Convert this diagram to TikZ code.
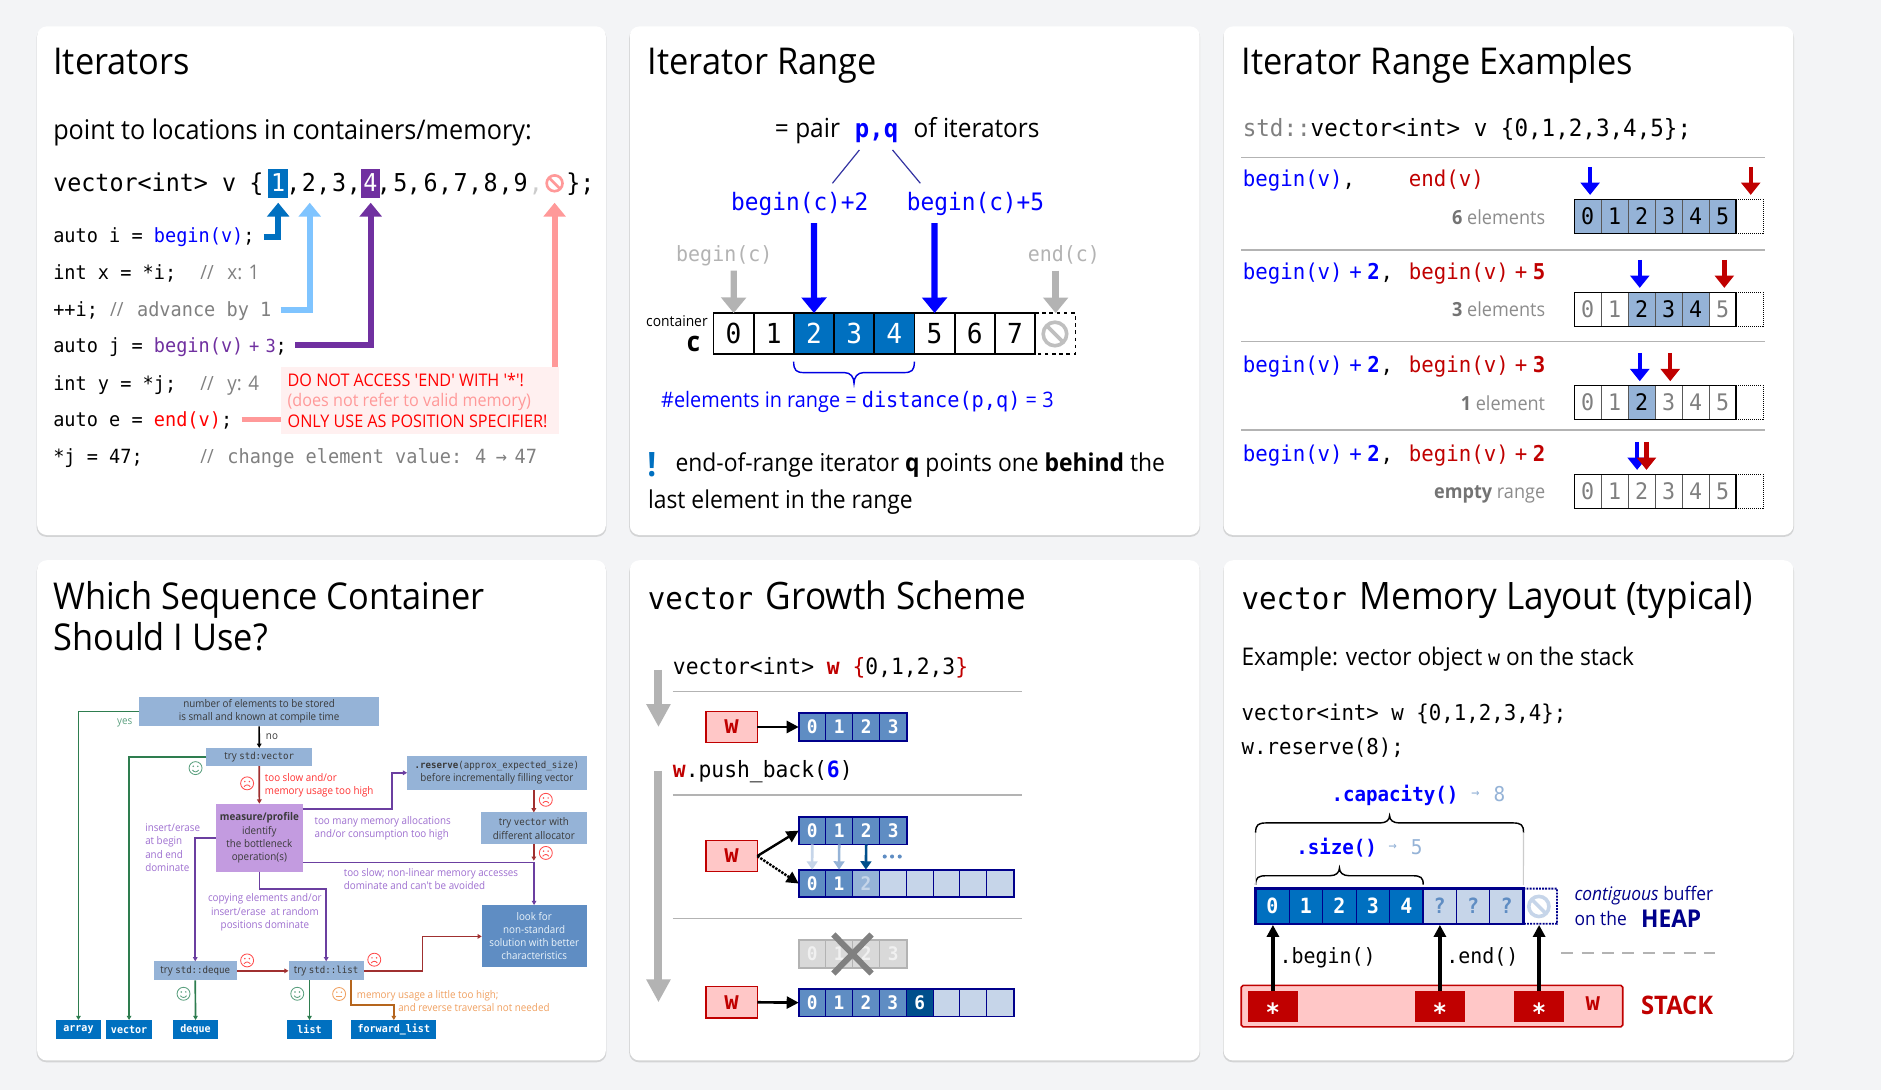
\documentclass[tikz,border=0pt]{standalone}
\usepackage{fontspec}
\usetikzlibrary{arrows.meta,calc}
\newfontfamily\ui[FakeStretch=0.93]{Open Sans}
\newfontfamily\mono[FakeStretch=0.95]{DejaVu Sans Mono}
\newcommand\fs[1]{\fontsize{#1}{#1}\selectfont}
\definecolor{pagebg}{HTML}{F3F4F6}
\definecolor{cbl}{HTML}{0000FF}
\definecolor{cblue}{HTML}{0070C0}
\definecolor{cpur}{HTML}{7030A0}
\definecolor{clb}{HTML}{7FC4FF}
\definecolor{cpink}{HTML}{FF9999}
\definecolor{cred}{HTML}{C00000}
\definecolor{navy}{HTML}{00008B}
\definecolor{cfill}{HTML}{95B3D7}
\definecolor{cmid}{HTML}{5F8DC3}
\definecolor{clite}{HTML}{C6D5E9}
\definecolor{cdark}{HTML}{004F8C}
\definecolor{cgray}{HTML}{808080}
\definecolor{lgray}{HTML}{B3B3B3}
\definecolor{rosefill}{HTML}{FFC7C7}
\definecolor{warnbg}{HTML}{FFF0F0}
\definecolor{fgreen}{HTML}{2E7D4F}
\definecolor{tgreen}{HTML}{5BA07F}
\definecolor{fpur}{HTML}{6B3FA0}
\definecolor{tpur}{HTML}{9E6FD0}
\definecolor{fdred}{HTML}{A03030}
\definecolor{fora}{HTML}{B5651D}
\definecolor{tora}{HTML}{F0A060}
\definecolor{fbox}{HTML}{95B3D7}
\definecolor{fmeas}{HTML}{C39BE0}
\definecolor{ftext}{HTML}{3A3A3A}
\tikzset{
  txt/.style={inner sep=0pt,outer sep=0pt,anchor=base west,yshift=-1pt},
  cellnode/.style={inner sep=0pt,outer sep=0pt,anchor=center},
  card/.style={fill=white,rounded corners=8pt},
  cardsh/.style={fill=black!25,rounded corners=8pt,opacity=.6},
  fbx/.style={inner sep=0pt,outer sep=0pt,fill=fbox,font={\ui\fs{8.8}},text=ftext,align=center,anchor=center},
  fbl/.style={inner sep=0pt,outer sep=0pt,fill=cblue,font={\mono\bfseries\fs{8.8}},text=white,anchor=center,minimum width=38pt,minimum height=15.6pt},
  fln/.style={line width=1.4pt,-{Triangle[length=3.5pt,width=3.8pt]}},
  uparrow/.style={line width=5pt,-{Triangle[length=11.5pt,width=18pt]}},
  bigarrow/.style={line width=5.3pt,-{Triangle[length=13pt,width=20.4pt]}},
  smallarrow/.style={line width=3.6pt,-{Triangle[length=10.3pt,width=15.7pt]}},
  wbox/.style={inner sep=0pt,outer sep=0pt,draw=cred,line width=1.3pt,fill=rosefill,text=cred,font={\mono\bfseries\fs{21}},minimum width=43pt,minimum height=26pt,anchor=center},
  ptr/.style={line width=2.2pt,-{Triangle[length=10pt,width=10pt]}},
  gsep/.style={draw=lgray,line width=1.3pt},
}
\newcounter{tn}
\newcommand\T[5][]{\stepcounter{tn}\node[txt,#1,font={#4}] (t\arabic{tn}) at (#2,#3) {#5};}
\newcommand\CellRow[7]{%
  \foreach \dd/\ff/\cc [count=\ii from 0] in {#7} {
    \pgfmathsetmacro\xx{#2+#4*(\ii+.5)}
    \node[cellnode,#6,minimum width=#4 pt,minimum height=#5 pt,fill=\ff,text=\cc] (#1\ii) at (\xx,#3) {\dd};
  }}
\newcommand\NoSign[5]{%
  \draw[#5,line width=#4pt] (#1,#2) circle[radius=#3];
  \draw[#5,line width=#4pt] ($(#1,#2)+(-.7*#3,-.7*#3)$) -- ($(#1,#2)+(.7*#3,.7*#3)$);}
\newcommand\Brace[6]{% x1 x2 ybar e t color
  \pgfmathsetmacro\bm{(#1+#2)/2}
  \draw[#6,line width=1.2pt] (#1,#3+#4) .. controls (#1,#3+.2*#4) and (#1+2,#3) .. (#1+9,#3)
    -- (\bm-8,#3) .. controls (\bm-3,#3) and (\bm,#3+.4*#5) .. (\bm,#3+#5)
    .. controls (\bm,#3+.4*#5) and (\bm+3,#3) .. (\bm+8,#3)
    -- (#2-9,#3) .. controls (#2-2,#3) and (#2,#3+.2*#4) .. (#2,#3+#4);}
\newcommand\Face[4]{% x y color kind(1 smile,-1 frown,0 neutral)
  \draw[#3,line width=.7pt] (#1,#2) circle[radius=5.4];
  \fill[#3] (#1-1.9,#2-1.5) circle[radius=.7];
  \fill[#3] (#1+1.9,#2-1.5) circle[radius=.7];
  \draw[#3,line width=.7pt] (#1-2.6,#2+2.2-#4*.6) .. controls (#1-1,#2+2.2+#4*1.4) and (#1+1,#2+2.2+#4*1.4) .. (#1+2.6,#2+2.2-#4*.6);}
\begin{document}
\begin{tikzpicture}[x=1pt,y=-1pt]
\useasboundingbox (0,0) rectangle (1568,909);
\fill[pagebg] (0,0) rectangle (1568,909);
% cards
\foreach \xa/\xb in {31/505,525/1000,1020/1495}{
  \fill[cardsh] (\xa-.5,23.5) rectangle (\xb+.5,447.5);
  \fill[cardsh] (\xa-.5,468.5) rectangle (\xb+.5,885.5);
  \fill[card] (\xa,22) rectangle (\xb,446);
  \fill[card] (\xa,467) rectangle (\xb,884);
}
\def\tf{\ui\fs{30.8}}
\def\tg{\ui\fs{31.5}}
% ---------------- Card 1
\T{44.5}{61}{\tf}{Iterators}
\T{44.4}{115.3}{\ui\fs{22.6}}{point to locations in containers/memory:}
\fill[cblue] (223.8,140.9) rectangle (240.4,164.8);
\fill[cpur] (301.2,140.9) rectangle (316.5,164.8);
\def\vf{\mono\fs{20.5}}
\T{44.4}{158.8}{\vf}{vector<int> v}
\T[anchor=base]{213.7}{158.8}{\vf}{\{}
\T[anchor=base,text=white]{231.9}{158.8}{\vf}{1}
\foreach \xp/\dg in {257.6/2,282.7/3,333.8/5,358.9/6,384/7,409/8,434/9}{\T[anchor=base]{\xp}{158.8}{\vf}{\dg}}
\T[anchor=base,text=white]{308.7}{158.8}{\vf}{4}
\foreach \xp in {244.5,269.5,295,320,345,371,396,421.6}{\T[anchor=base]{\xp}{158.8}{\vf}{,}}
\T[anchor=base,text=black!20]{446.7}{158.8}{\vf}{,}
\NoSign{462.3}{152.8}{6.6}{2.2}{cpink}
\T[anchor=base]{478}{158.8}{\vf}{\}}
\T[anchor=base]{489.6}{158.8}{\vf}{;}
\def\cf{\mono\fs{16.3}}
\T{44.4}{201.4}{\cf}{auto i = \textcolor{cbl}{begin(v)};}
\T{44.4}{232}{\cf}{int x = *i;}
\T{44.4}{262.5}{\cf}{++i;}
\T{44.4}{293}{\cf}{auto j = \textcolor{cpur}{begin(v)}}
\T[anchor=base]{212}{293}{\mono\fs{15}}{\textcolor{cpur}{+}}
\T[anchor=base]{225.7}{293}{\mono\fs{15}}{\textcolor{cpur}{3}}
\T[anchor=base]{234.5}{293}{\cf}{;}
\T{44.4}{324.2}{\cf}{int y = *j;}
\T{44.4}{354.8}{\cf}{auto e = \textcolor{red}{end(v)};}
\T{44.4}{385.3}{\cf}{*j = 47;}
\T[text=cgray]{167}{232}{\ui\fs{16.3}}{//}
\T[text=cgray]{189.6}{232}{\ui\fs{16.8}}{x: 1}
\T[text=cgray]{91.8}{262.5}{\ui\fs{16.3}}{//}
\T[text=cgray]{114.3}{262.5}{\cf}{advance by 1}
\T[text=cgray]{167}{324.2}{\ui\fs{16.3}}{//}
\T[text=cgray]{189.6}{324.2}{\ui\fs{16.8}}{y: 4}
\T[text=cgray]{167}{385.3}{\ui\fs{16.3}}{//}
\T[text=cgray]{189.6}{385.3}{\cf}{change element value:}
\T[text=cgray]{396}{385.3}{\cf}{4}
\T[text=cgray,anchor=base]{418}{385.3}{\cf}{→}
\T[text=cgray]{429}{385.3}{\cf}{47}
% warning box and arrows
\node[inner sep=0pt,outer sep=0pt,fill=warnbg,anchor=north west,minimum width=231.8pt,minimum height=55.7pt] (warn) at (234,306) {};
\T[text=red]{239.8}{321}{\ui\fs{14.5}}{DO NOT ACCESS 'END' WITH '*'!}
\T[text=cpink]{239.8}{338}{\ui\fs{14.5}}{(does not refer to valid memory)}
\T[text=red]{239.8}{355}{\ui\fs{14.5}}{ONLY USE AS POSITION SPECIFIER!}
\coordinate (a1s) at (220,197.8); \coordinate (a1t) at (231.9,169);
\coordinate (a2s) at (234,258.4); \coordinate (a2t) at (258.2,169);
\coordinate (a3s) at (246,287.8); \coordinate (a3t) at (309,169);
\coordinate (a4t) at (462.3,169);
\coordinate (a5s) at (201.5,349.8);
\draw[uparrow,cblue] (a1s) -| (a1t);
\draw[uparrow,clb] (a2s) -| (a2t);
\draw[uparrow,cpur] (a3s) -| (a3t);
\draw[uparrow,cpink] (warn.north -| a4t) -- (a4t);
\draw[cpink,line width=4pt] (a5s) -- (warn.west |- a5s);
% ---------------- Card 2
\T{540}{61}{\tf}{Iterator Range}
\T{646}{114}{\ui\fs{21.9}}{= pair}
\T{712.7}{114}{\mono\bfseries\fs{21}}{\textcolor{cbl}{p,q}}
\T{761.6}{114}{\ui\fs{21.9}}{of iterators}
\T[text=cbl]{609.5}{174.5}{\mono\fs{20}}{begin(c)+2}
\coordinate (bc2) at (693.9,152.8); \coordinate (bc5) at (767.2,152.8);
\T[text=cbl]{756}{174.5}{\mono\fs{20}}{begin(c)+5}
\coordinate (pq1) at (716.4,125); \coordinate (pq2) at (744,125);
\draw[draw=navy!80!white,line width=1pt] (pq1) -- (bc2);
\draw[draw=navy!80!white,line width=1pt] (pq2) -- (bc5);
\T[text=lgray]{563.7}{217}{\mono\fs{17.5}}{begin(c)}
\T[text=lgray]{856.9}{217}{\mono\fs{17.5}}{end(c)}
\T{538.7}{270.9}{\ui\fs{12.4}}{container}
\T{572.5}{291.7}{\ui\bfseries\fs{23}}{c}
\CellRow{cb}{594.8}{278}{33.5}{34}{draw=black,line width=1.4pt,font={\mono\fs{23}}}{0/white/black,1/white/black,2/cblue/white,3/cblue/white,4/cblue/white,5/white/black,6/white/black,7/white/black}
\draw[black,line width=1.4pt,dashed] (cb7.north east) -- ++(33.6,0) -- ++(0,34) -- (cb7.south east);
\NoSign{879.4}{278.4}{9.8}{3}{black!25}
\draw[bigarrow,cbl] (678.5,186) -- (cb2.north);
\draw[bigarrow,cbl] (779,186) -- (cb5.north);
\draw[bigarrow,lgray] (611.7,225.6) -- (cb0.north);
\draw[bigarrow,lgray] (880,225.6) -- (880,261);
\Brace{661.6}{762.2}{310.6}{-9.2}{8.9}{cbl!75!navy}
\T[text=cbl]{551.2}{339}{\ui\fs{17.8}}{\#elements in range = {\mono\fs{17.8}distance(p,q)} = 3}
\T[anchor=base,text=cblue]{543.4}{396}{\ui\bfseries\fs{28}}{!}
\T{563.1}{391.7}{\ui\fs{20.5}}{end-of-range iterator \textbf{q} points one \textbf{behind} the}
\T{540.2}{422.8}{\ui\fs{20.5}}{last element in the range}
% ---------------- Card 3
\T{1035}{61}{\tf}{Iterator Range Examples}
\def\rf{\mono\fs{18.2}}
\T{1036}{112.5}{\mono\fs{19.8}}{\textcolor{cgray}{std::}vector<int> v \{0,1,2,3,4,5\};}
\foreach \yy in {131.2,208.4,284.8,358.4}{\draw[gsep] (1034.6,\yy) -- (1471.3,\yy);}
\newcommand\Lab[3]{\T[anchor=base east]{1288}{#1}{\ui\fs{16.2}}{\textcolor{black!55}{\textbf{#2}}\ \textcolor{black!45}{#3}}}
\T[text=cbl]{1036}{154.8}{\rf}{begin(v)\textcolor{black}{,}}
\T[text=cred]{1174.4}{154.8}{\rf}{end(v)}
\Lab{186}{6}{elements}
\foreach \yy/\pn in {232.3/5,309.5/3,383.4/2}{
  \T[text=cbl]{1036}{\yy}{\rf}{begin(v)}
  \T[text=cbl,anchor=base]{1130}{\yy}{\rf}{+}
  \T[text=cbl,anchor=base]{1145}{\yy}{\mono\bfseries\fs{18.2}}{2}
  \T[anchor=base]{1156}{\yy}{\rf}{,}
  \T[text=cred]{1174.4}{\yy}{\rf}{begin(v)}
  \T[text=cred,anchor=base]{1268}{\yy}{\rf}{+}
  \T[text=cred,anchor=base]{1283}{\yy}{\mono\bfseries\fs{18.2}}{\pn}
}
\Lab{263}{3}{elements}
\Lab{341}{1}{element}
\Lab{414.5}{empty}{range}
\def\cw{22.47}
\tikzset{rowcell/.style={draw=black!65,line width=.9pt,font={\mono\fs{19}}}}
\CellRow{ra}{1312.3}{180.3}{\cw}{28.4}{rowcell}{0/cfill/black,1/cfill/black,2/cfill/black,3/cfill/black,4/cfill/black,5/cfill/black}
\CellRow{rb}{1312.3}{257.9}{\cw}{28.4}{rowcell}{0/white/cgray,1/white/cgray,2/cfill/black,3/cfill/black,4/cfill/black,5/white/cgray}
\CellRow{rc}{1312.3}{335.3}{\cw}{28.4}{rowcell}{0/white/cgray,1/white/cgray,2/cfill/black,3/white/cgray,4/white/cgray,5/white/cgray}
\CellRow{rd}{1312.3}{409.5}{\cw}{28.4}{rowcell}{0/white/cgray,1/white/cgray,2/white/cgray,3/white/cgray,4/white/cgray,5/white/cgray}
\foreach \rr in {ra,rb,rc,rd}{
  \draw[black,line width=1.1pt] (\rr0.south west) rectangle (\rr5.north east);
  \draw[black,line width=.7pt,densely dotted] (\rr5.north east) -- ++(22.6,0) -- ++(0,28.4) -- (\rr5.south east);
}
\draw[smallarrow,cbl] (1325.5,139.2) -- (1325.5,162.5);
\draw[smallarrow,cred] (1459.4,139.2) -- (1459.4,162.5);
\draw[smallarrow,cbl] (1366.9,216.7) -- (1366.9,240);
\draw[smallarrow,cred] (1437.4,216.7) -- (1437.4,240);
\draw[smallarrow,cbl] (1366.9,294.2) -- (1366.9,317.8);
\draw[smallarrow,cred] (1392.3,294.2) -- (1392.3,317.8);
\draw[smallarrow,cbl] (1364.7,368.4) -- (1364.7,391.7);
\draw[smallarrow,cred] (1372.5,368.4) -- (1372.5,391.7);
% ---------------- Card 4
\T{44.5}{507}{\tf}{Which Sequence Container}
\T{44.5}{541}{\tf}{Should I Use?}
\def\fm{\mono\fs{8}}
\node[fbx,minimum width=200pt,minimum height=25pt,align=center] (top) at (216,593.1) {number of elements to be stored\\[1.8pt]is small and known at compile time};
\node[fbx,minimum width=88.3pt,minimum height=15.2pt] (tryvec) at (216.1,631) {try {\fm std:vector}};
\node[fbx,fill=fmeas,minimum width=72.5pt,minimum height=56.7pt] (meas) at (216.2,698.3) {\textbf{measure/profile}\\[2.2pt]identify\\[2.2pt]the bottleneck\\[2.2pt]operation(s)};
\node[fbx,minimum width=149.6pt,minimum height=28.4pt] (res) at (414.2,644.2) {{\fm\textbf{.reserve}(approx\_expected\_size)}\\[1.8pt]before incrementally filling vector};
\node[fbx,minimum width=88pt,minimum height=26.1pt] (alloc) at (445,690.3) {try {\fm vector} with\\[1.8pt]different allocator};
\node[fbx,fill=cmid,text=white!92!cblue,minimum width=87.4pt,minimum height=51.5pt] (look) at (445.3,780.2) {look for\\[2.2pt]non-standard\\[2.2pt]solution with better\\[2.2pt]characteristics};
\node[fbx,minimum width=69.5pt,minimum height=15.9pt] (dq) at (162.75,809.3) {try {\fm std::deque}};
\node[fbx,minimum width=62.8pt,minimum height=15.9pt] (ls) at (271.9,809.3) {try {\fm std::list}};
\node[fbl] (oarr) at (65.4,858.1) {array};
\node[fbl] (ovec) at (107.6,858.1) {vector};
\node[fbl] (odq) at (163,858.1) {deque};
\node[fbl] (olist) at (258,858.1) {list};
\node[fbl,minimum width=71.1pt] (ofw) at (328.3,858.1) {forward\_list};
\draw[fln,fgreen] (top.west) -| (oarr.north);
\draw[fln,black] (top.south) -- (tryvec.north);
\draw[fln,fgreen] (tryvec.west) -| (ovec.north);
\draw[fln,fdred] (tryvec.south) -- (meas.north);
\draw[fln,fpur] (meas.west) -| (dq.north);
\draw[fln,fpur] (meas.south) -- ++(0,14.5) -| (ls.north);
\draw[fln,fpur] (meas.east |- 0,674.2) -| (326.9,660) |- (res.west);
\draw[fln,fpur] (meas.east |- 0,719) -- (445.2,719) -- (look.north -| 445.2,0);
\draw[fln,fdred] (res.south -| alloc.north) -- (alloc.north);
\draw[fln,fdred] (alloc.south) -- (445,717.5);
\draw[fln,fdred] (dq.east) -- (ls.west);
\draw[fln,fdred] (ls.east) -| (352.2,795) |- (look.west |- 0,780.6);
\draw[fln,fgreen] (dq.south) -- (odq.north);
\draw[fln,fgreen] (ls.south -| olist.north) -- (olist.north);
\draw[fln,fora] (292.8,817.3) |- (328.3,838) -- (ofw.north);
\def\fft{\ui\fs{8.8}}
\T[text=tgreen,anchor=mid]{103.9}{600.6}{\fft}{yes}
\T[text=ftext,anchor=mid]{226.7}{613.4}{\fft}{no}
\T[text=red!80,anchor=mid west]{220.8}{648}{\fft}{too slow and/or}
\T[text=red!80,anchor=mid west]{220.8}{659.2}{\fft}{memory usage too high}
\T[text=tpur,anchor=mid west]{121.1}{690}{\fft}{insert/erase}
\T[text=tpur,anchor=mid west]{121.1}{701}{\fft}{at begin}
\T[text=tpur,anchor=mid west]{121.1}{712.5}{\fft}{and end}
\T[text=tpur,anchor=mid west]{121.1}{723.6}{\fft}{dominate}
\T[text=tpur,anchor=mid]{220.8}{748.6}{\fft}{copying elements and/or}
\T[text=tpur,anchor=mid]{220.8}{759.7}{\fft}{insert/erase\ \ at random}
\T[text=tpur,anchor=mid]{220.8}{770.9}{\fft}{positions dominate}
\T[text=tpur,anchor=mid west]{262.2}{684.5}{\fft}{too many memory allocations}
\T[text=tpur,anchor=mid west]{262.2}{695.3}{\fft}{and/or consumption too high}
\T[text=tpur,anchor=mid west]{286.6}{727.5}{\fft}{too slow; non-linear memory accesses}
\T[text=tpur,anchor=mid west]{286.6}{738.4}{\fft}{dominate and can't be avoided}
\T[text=tora,anchor=mid west]{297.5}{829.5}{\fft}{memory usage a little too high;}
\T[text=tora,anchor=mid west]{332}{840.3}{\fft}{and reverse traversal not needed}
\Face{163}{640.3}{tgreen}{1}
\Face{206}{653}{red!70}{-1}
\Face{206}{800.6}{red!70}{-1}
\Face{153}{828.4}{tgreen}{1}
\Face{247.8}{828.4}{tgreen}{1}
\Face{282.7}{828.6}{tora}{0}
\Face{312}{800}{red!70}{-1}
\Face{455}{666.7}{red!70}{-1}
\Face{455}{711}{red!70}{-1}
% ---------------- Card 5
\T{540}{507}{\tg}{{\mono\fs{25.6}vector}\kern 3pt\ Growth Scheme}
\def\gf{\mono\fs{18.7}}
\T{561}{561}{\gf}{vector<int> \textcolor{cred}{\textbf{w} \{}0,1,2,3\textcolor{cred}{\}}}
\T{561}{647}{\gf}{\textcolor{cred}{\textbf{w}}.push\_back(\textcolor{cbl}{\textbf{6}})}
\draw[gsep] (561,576.4) -- (851.6,576.4);
\draw[gsep] (561,662.8) -- (851.6,662.8);
\draw[gsep,line width=1pt] (561,765.5) -- (851.6,765.5);
\tikzset{gcell/.style={draw=navy,line width=.8pt,font={\mono\bfseries\fs{15.6}}},
  garrow/.style={line width=6.7pt,lgray,-{Triangle[length=19pt,width=19pt]}},
  growrect/.style={draw=navy,line width=1.5pt}}
\coordinate (g1) at (548.9,558.3); \coordinate (g1t) at (548.9,606);
\coordinate (g2) at (548.9,642.5); \coordinate (g2t) at (548.9,835.5);
\draw[garrow] (g1) -- (g1t);
\draw[garrow] (g2) -- (g2t);
\node[wbox] (w1) at (609.8,606) {w};
\CellRow{ga}{665.8}{606}{22.5}{23.1}{gcell}{0/cmid/white,1/cmid/white,2/cmid/white,3/cmid/white}
\draw[growrect] (ga0.south west) rectangle (ga3.north east);
\draw[ptr] (w1.east) -- (ga0.west);
\node[wbox] (w2) at (609.8,713.6) {w};
\CellRow{gb}{665.8}{692.4}{22.5}{23.1}{gcell}{0/cmid/white,1/cmid/white,2/cmid/white,3/cmid/white}
\draw[growrect] (gb0.south west) rectangle (gb3.north east);
\CellRow{gc}{665.8}{736.5}{22.4}{23.1}{gcell}{0/cmid/white,1/cmid/white,2/cfill/clite,{}/clite/white,{}/clite/white,{}/clite/white,{}/clite/white,{}/clite/white}
\draw[growrect] (gc0.south west) rectangle (gc7.north east);
\draw[ptr,line width=2pt] (w2.east) -- (gb0.west);
\draw[ptr,line width=2pt,densely dotted] (w2.east) -- (gc0.west);
\tikzset{copyarr/.style={line width=2.2pt,-{Triangle[length=7pt,width=9pt]}}}
\draw[copyarr,clite] (gb0.south) -- (gc0.north);
\draw[copyarr,cfill] (gb1.south) -- (gc1.north);
\draw[copyarr,cdark] (gb2.south) -- (gc2.north);
\foreach \xx in {737.5,743.6,750}{\fill[cmid] (\xx,714) circle[radius=1.7];}
\CellRow{gd}{665.8}{795.1}{22.5}{23.1}{draw=lgray,line width=.8pt,font={\mono\bfseries\fs{15.6}}}{0/black!15/black!6,1/black!15/black!6,2/black!15/black!6,3/black!15/black!6}
\draw[lgray,line width=1.5pt] (gd0.south west) rectangle (gd3.north east);
\draw[cgray,line width=5pt] (694.7,779) -- (726.5,811.5);
\draw[cgray,line width=5pt] (726.5,779) -- (694.7,811.5);
\node[wbox] (w3) at (609.8,835.5) {w};
\CellRow{ge}{665.8}{835.8}{22.4}{23.1}{gcell}{0/cmid/white,1/cmid/white,2/cmid/white,3/cmid/white,6/cdark/white,{}/clite/white,{}/clite/white,{}/clite/white}
\draw[growrect] (ge0.south west) rectangle (ge7.north east);
\draw[ptr] (w3.east) -- (ge0.west);
% ---------------- Card 6
\T{1035}{507}{\tg}{{\mono\fs{25.6}vector}\kern 3pt\ Memory Layout (typical)}
\T{1035}{553.5}{\ui\fs{20.3}}{Example: vector object {\mono\fs{17.5}w} on the stack}
\T{1035}{600}{\mono\fs{18.2}}{vector<int> w \{0,1,2,3,4\};}
\T{1035}{628}{\mono\fs{18.2}}{w.reserve(8);}
\T[text=cbl]{1110}{667.5}{\mono\bfseries\fs{16.8}}{.capacity()}
\T[text=cfill,anchor=mid]{1230}{661.7}{\mono\fs{12}}{→}
\T[text=cfill,anchor=base]{1250}{667.5}{\mono\fs{17}}{8}
\T[text=cbl]{1080.6}{711.5}{\mono\bfseries\fs{16.8}}{.size()}
\T[text=cfill,anchor=mid]{1161}{705.6}{\mono\fs{12}}{→}
\T[text=cfill,anchor=base]{1181}{711.5}{\mono\fs{17}}{5}
\Brace{1046.7}{1270}{686}{8}{-6}{black}
\Brace{1046.7}{1186.4}{730}{7.5}{-6.4}{black}
\CellRow{hp}{1046.7}{755.4}{27.9}{29.2}{draw=navy,line width=.9pt,font={\mono\bfseries\fs{17.5}}}{0/cblue/white,1/cblue/white,2/cblue/white,3/cblue/white,4/cblue/white,?/clite/cmid,?/clite/cmid,?/clite/cmid}
\draw[black!20,line width=.9pt] (hp0.north west) ++(0,-3) -- (1046.7,694);
\draw[black!20,line width=.9pt] (hp7.north east) ++(0,-3) -- (1270,694);
\draw[navy,line width=2pt] (hp0.south west) rectangle (hp7.north east);
\draw[navy,line width=1.6pt,densely dotted] (hp7.north east) -- ++(28,0) -- ++(0,29.2) -- (hp7.south east);
\NoSign{1282.8}{755.6}{8.4}{3}{clite}
\T[text=navy]{1312.5}{749.5}{\ui\fs{15.6}}{\itshape contiguous \upshape buffer}
\T[text=navy]{1312.5}{770.5}{\ui\fs{15.6}}{on the}
\T[text=navy]{1368}{772}{\ui\bfseries\fs{20.4}}{HEAP}
\node[draw=cred,line width=1.3pt,fill=rosefill,inner sep=0pt,outer sep=0pt,minimum width=318pt,minimum height=34.6pt,anchor=north west,rounded corners=1.5pt] (stk) at (1034.7,821.4) {};
\tikzset{ptrcell/.style={fill=cred,text=white,inner sep=0pt,outer sep=0pt,minimum width=41.1pt,minimum height=26.2pt,font={\mono\bfseries\fs{21}},anchor=center}}
\node[ptrcell] (p1) at (1061.1,838.9) {\raisebox{-12.5pt}[0pt][0pt]{*}};
\node[ptrcell] (p2) at (1200.3,838.9) {\raisebox{-12.5pt}[0pt][0pt]{*}};
\node[ptrcell] (p3) at (1283,838.9) {\raisebox{-12.5pt}[0pt][0pt]{*}};
\draw[ptr,line width=3pt] (p1.north) -- (1061.1,771);
\draw[ptr,line width=3pt] (p2.north) -- (1200.3,771);
\draw[ptr,line width=3pt] (p3.north) -- (1283,771);
\T[text=black]{1066.7}{802.5}{\mono\fs{17.5}}{.begin()}
\T[text=black]{1205.6}{802.5}{\mono\fs{17.5}}{.end()}
\draw[lgray,line width=1.4pt,dash pattern=on 10pt off 7pt] (1301.4,794.4) -- (1430,794.4);
\T[text=cred,anchor=mid]{1327.8}{839.4}{\mono\bfseries\fs{21}}{w}
\T[text=cred]{1368}{845}{\ui\bfseries\fs{21.3}}{STACK}
\end{tikzpicture}
\end{document}
